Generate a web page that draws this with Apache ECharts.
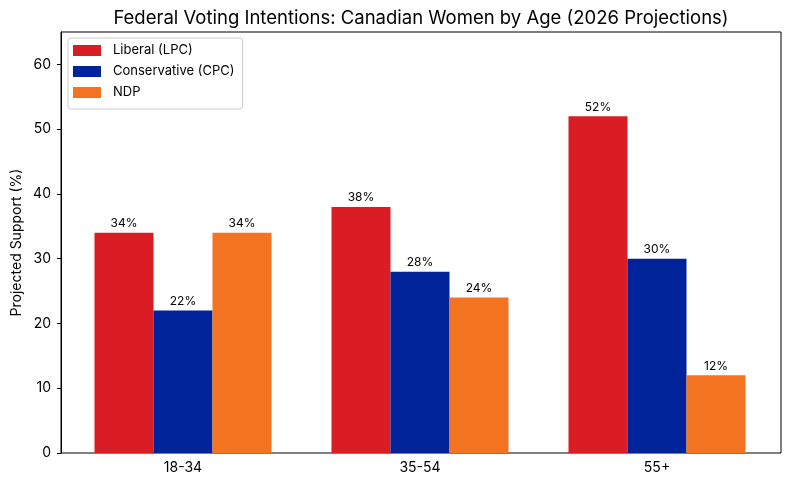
<!DOCTYPE html>
<html><head><meta charset="utf-8">
<script src="https://cdn.jsdelivr.net/npm/echarts@6/dist/echarts.min.js"></script>
<style>html,body{margin:0;padding:0;background:#fff}#c{width:790px;height:489px}</style>
</head><body><div id="c"></div>
<script>
const categories = ['18-34', '35-54', '55+'];
const liberal = [34, 38, 52];
const conservative = [22, 28, 30];
const ndp = [34, 24, 12];
const seriesNames = ['Liberal (LPC)', 'Conservative (CPC)', 'NDP'];
const titleText = 'Federal Voting Intentions: Canadian Women by Age (2026 Projections)';
const colors = ['#DA1C24', '#00239A', '#F47321'];
const F = 'Inter, "DejaVu Sans", sans-serif';

const chart = echarts.init(document.getElementById('c'), null, {renderer: 'canvas'});
function mk(name, data, color) {
  return {
    name, type: 'bar', data, barWidth: 59, barGap: '0%', xAxisIndex: 1, yAxisIndex: 1,
    itemStyle: {color},
    label: {show: true, position: 'top', distance: 3, formatter: p => p.value + '%', color: '#000', fontFamily: F, fontSize: 12}
  };
}
chart.setOption({
  animation: false,
  graphic: [{type: 'text', x: 421, y: 18, style: {text: titleText, fill: '#000', font: '18.5px ' + F, textAlign: 'center', textVerticalAlign: 'middle'}}],
  legend: {orient: 'vertical', left: 68, top: 38, itemWidth: 28, itemHeight: 11, itemGap: 8,
    padding: [6, 8, 10, 5], borderColor: '#ccc', borderWidth: 1, borderRadius: 3, backgroundColor: '#fff',
    textStyle: {fontFamily: F, fontSize: 13, color: '#000', padding: [0, 0, 0, 7]}, icon: 'rect'},
  grid: [
    {left: 61, right: 9, top: 32, bottom: 36, show: true, borderColor: '#000', borderWidth: 1, containLabel: false},
    {left: 64.5, right: 14.5, top: 32, bottom: 36, containLabel: false}
  ],
  xAxis: [
    {type: 'category', gridIndex: 0, data: categories, show: false},
    {type: 'category', gridIndex: 1, data: categories,
      axisLine: {show: false}, axisTick: {alignWithLabel: true, length: 4, lineStyle: {color: '#000'}},
      axisLabel: {fontFamily: F, fontSize: 14, color: '#000', margin: 8}}
  ],
  yAxis: [
    {type: 'value', gridIndex: 0, min: 0, max: 65, interval: 10, name: 'Projected Support (%)', nameLocation: 'middle', nameGap: 37,
      nameMoveOverlap: false,
      nameTextStyle: {fontFamily: F, fontSize: 14, color: '#000'},
      axisLine: {show: true, lineStyle: {color: '#000'}}, axisTick: {show: true, length: 4, lineStyle: {color: '#000'}},
      splitLine: {show: false},
      axisLabel: {fontFamily: F, fontSize: 14, color: '#000', margin: 10, showMaxLabel: false}},
    {type: 'value', gridIndex: 1, min: 0, max: 65, show: false, splitLine: {show: false}}
  ],
  series: [mk(seriesNames[0], liberal, colors[0]), mk(seriesNames[1], conservative, colors[1]), mk(seriesNames[2], ndp, colors[2])]
});
</script></body></html>
